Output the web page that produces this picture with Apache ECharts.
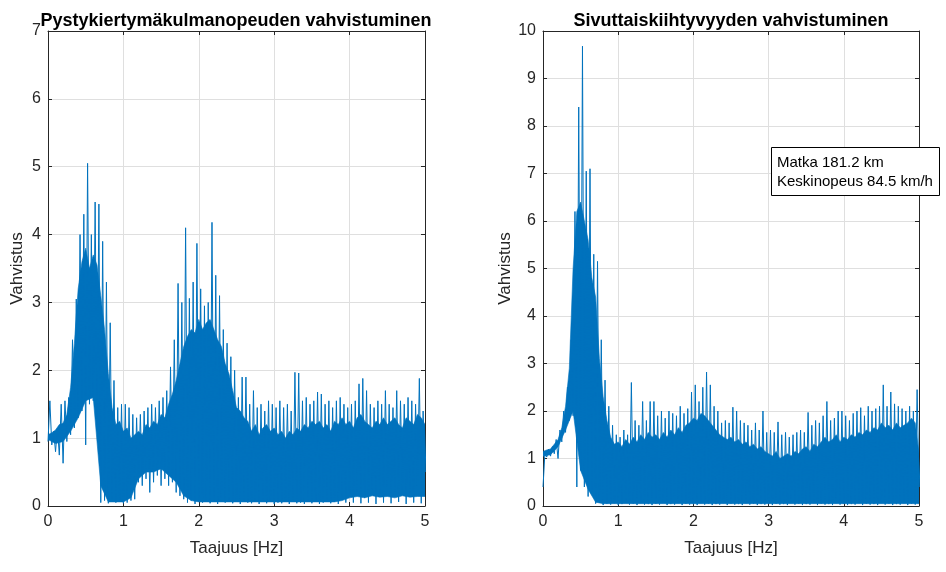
<!DOCTYPE html>
<html>
<head>
<meta charset="utf-8">
<script src="https://cdn.jsdelivr.net/npm/echarts@6/dist/echarts.min.js"></script>
<style>
html,body{margin:0;padding:0;background:#fff;}
#chart{width:946px;height:572px;}
</style>
</head>
<body>
<div id="chart"></div>
<script>
// ---- Data (gain vs frequency) ----
const freqStep = 0.05;   // spacing of spike / core-top samples [Hz]
const bandStep = 0.1;    // spacing of dense-band lower edge samples [Hz]
const xTicks = [0, 1, 2, 3, 4, 5];

// Left plot: Pystykiertymäkulmanopeuden vahvistuminen
const leftPeak = [
 1.55,1.10,1.15,1.50,1.55,1.60,2.45,3.05,4.00,4.30,
 5.05,4.00,4.48,4.45,3.90,3.30,2.70,1.85,1.45,1.50,
 1.50,1.45,1.35,1.30,1.35,1.40,1.45,1.50,1.45,1.55,
 1.60,1.70,2.05,2.45,3.28,3.00,4.10,3.06,3.30,3.87,
 3.20,2.95,3.00,4.18,3.40,3.10,2.60,2.40,2.20,2.00,
 1.60,1.90,1.90,1.50,1.70,1.45,1.50,1.40,1.55,1.50,
 1.45,1.55,1.45,1.50,1.40,1.97,1.96,1.55,1.60,1.50,
 1.55,1.68,1.65,1.50,1.55,1.45,1.55,1.60,1.50,1.45,
 1.50,1.55,1.80,1.88,1.70,1.50,1.45,1.55,1.50,1.70,
 1.50,1.45,1.70,1.55,1.50,1.60,1.55,1.50,1.88,1.40,
 1.30];
const leftTrough = [
 0.95,0.90,0.80,0.75,0.63,0.95,1.05,1.15,1.30,1.40,
 0.90,1.50,1.55,1.20,0.05,0.08,0.04,0.08,0.05,0.06,
 0.04,0.05,0.08,0.10,0.35,0.30,0.40,0.20,0.35,0.45,
 0.30,0.40,0.30,0.35,0.20,0.15,0.10,0.05,0.08,0.03,
 0.10,0.05,0.08,0.04,0.06,0.03,0.08,0.05,0.10,0.04,
 0.06,0.03,0.08,0.05,0.04,0.07,0.03,0.06,0.04,0.08,
 0.03,0.05,0.04,0.07,0.03,0.06,0.04,0.05,0.03,0.08,
 0.04,0.06,0.03,0.05,0.07,0.04,0.06,0.03,0.10,0.05,
 0.15,0.05,0.20,0.04,0.12,0.05,0.25,0.03,0.18,0.05,
 0.28,0.04,0.22,0.06,0.25,0.03,0.20,0.05,0.30,0.04,
 0.50];
const leftCoreTop = [
 1.05,1.08,1.12,1.20,1.22,1.35,1.75,2.40,3.20,3.60,
 3.80,3.50,3.70,3.55,3.10,2.60,1.95,1.45,1.20,1.25,
 1.10,1.15,1.00,1.05,1.10,1.05,1.20,1.15,1.25,1.20,
 1.35,1.30,1.50,1.65,1.85,2.10,2.35,2.50,2.60,2.55,
 2.75,2.60,2.70,2.75,2.60,2.45,2.35,2.10,1.95,1.70,
 1.45,1.40,1.30,1.25,1.10,1.20,1.05,1.15,1.20,1.10,
 1.15,1.05,1.10,1.00,1.10,1.05,1.15,1.10,1.20,1.15,
 1.25,1.20,1.25,1.15,1.20,1.10,1.25,1.20,1.30,1.20,
 1.25,1.15,1.30,1.35,1.25,1.20,1.15,1.25,1.20,1.30,
 1.20,1.25,1.30,1.20,1.15,1.30,1.25,1.20,1.35,1.30,
 1.20];
const leftBandLo = [
 0.98,0.92,0.95,1.10,1.30,1.55,1.60,0.30,0.06,0.06,
 0.06,0.12,0.40,0.50,0.50,0.55,0.45,0.35,0.15,0.08,
 0.06,0.06,0.06,0.06,0.06,0.06,0.06,0.06,0.06,0.06,
 0.06,0.06,0.06,0.06,0.06,0.06,0.06,0.06,0.06,0.08,
 0.12,0.14,0.12,0.15,0.13,0.14,0.12,0.15,0.13,0.14,
 0.14];

// Right plot: Sivuttaiskiihtyvyyden vahvistuminen
const rightPeak = [
 1.10,1.20,1.25,1.40,1.60,2.00,2.50,3.50,6.20,8.40,
 9.68,7.05,7.10,5.30,5.15,3.50,2.65,2.10,1.70,1.50,
 1.45,1.60,1.50,2.60,1.80,1.70,2.20,1.80,2.20,2.20,
 1.90,2.00,1.85,2.00,1.95,1.90,2.10,1.95,2.05,2.40,
 2.55,2.20,2.50,2.82,2.55,2.10,2.00,1.75,1.80,1.75,
 2.08,2.00,1.80,1.75,1.70,1.60,1.75,1.60,2.00,1.55,
 1.60,1.55,1.77,1.50,1.55,1.45,1.50,1.55,1.60,1.55,
 1.97,1.70,1.80,1.75,1.90,2.20,1.80,1.85,2.00,2.00,
 1.90,1.80,1.95,2.00,2.07,1.90,2.10,2.00,2.05,2.10,
 2.55,2.10,2.40,2.15,2.10,2.05,2.00,2.10,2.00,2.45,
 1.20];
const rightTrough = [
 0.40,1.03,1.05,1.10,1.00,1.35,1.55,1.80,1.90,0.40,
 0.75,0.40,0.20,0.30,0.05,0.10,0.02,0.05,0.03,0.06,
 0.02,0.04,0.08,0.03,0.05,0.02,0.06,0.03,0.04,0.02,
 0.05,0.03,0.07,0.02,0.04,0.03,0.06,0.02,0.05,0.03,
 0.04,0.02,0.06,0.03,0.05,0.02,0.04,0.03,0.06,0.02,
 0.05,0.03,0.04,0.02,0.06,0.03,0.05,0.02,0.04,0.03,
 0.06,0.02,0.05,0.03,0.04,0.02,0.06,0.03,0.05,0.02,
 0.04,0.03,0.06,0.02,0.05,0.03,0.04,0.02,0.06,0.03,
 0.05,0.02,0.04,0.03,0.06,0.02,0.05,0.03,0.04,0.02,
 0.06,0.03,0.05,0.02,0.04,0.03,0.06,0.02,0.05,0.03,
 0.40];
const rightCoreTop = [
 1.15,1.18,1.20,1.30,1.40,1.65,2.10,2.90,5.00,6.20,
 6.40,6.00,5.60,4.80,4.40,3.10,2.30,1.80,1.45,1.30,
 1.35,1.25,1.40,1.30,1.45,1.35,1.50,1.40,1.55,1.45,
 1.50,1.40,1.55,1.45,1.60,1.50,1.65,1.55,1.70,1.75,
 1.85,1.80,1.95,1.90,1.80,1.70,1.60,1.50,1.45,1.40,
 1.45,1.35,1.40,1.30,1.35,1.25,1.30,1.20,1.25,1.15,
 1.10,1.05,1.15,1.00,1.05,1.10,1.05,1.15,1.10,1.20,
 1.25,1.15,1.30,1.25,1.35,1.45,1.35,1.40,1.50,1.35,
 1.45,1.40,1.50,1.45,1.55,1.50,1.60,1.55,1.65,1.60,
 1.75,1.65,1.70,1.60,1.75,1.65,1.70,1.75,1.85,1.75,
 1.10];
const rightBandLo = [
 1.05,1.08,1.25,1.60,2.00,0.75,0.35,0.08,0.05,0.05,
 0.05,0.05,0.05,0.05,0.05,0.05,0.05,0.05,0.05,0.05,
 0.05,0.05,0.05,0.05,0.05,0.05,0.05,0.05,0.05,0.05,
 0.05,0.05,0.05,0.05,0.05,0.05,0.05,0.05,0.05,0.05,
 0.05,0.05,0.05,0.05,0.05,0.05,0.05,0.05,0.05,0.05,
 0.05];

const titles = ['Pystykiertymäkulmanopeuden vahvistuminen', 'Sivuttaiskiihtyvyyden vahvistuminen'];
const yMax = [7, 10];
const xName = 'Taajuus [Hz]';
const yName = 'Vahvistus';
const infoLines = ['Matka 181.2 km', 'Keskinopeus 84.5 km/h'];

// ---- Build chart ----
const BLUE = '#0072BD';
const AX = '#262626';
const FONT = '"Liberation Sans", Arial, Helvetica, sans-serif';

function zigzag(peak, trough) {
  const pts = [];
  for (let i = 0; i < peak.length; i++) {
    const f = +(i * freqStep).toFixed(4);
    pts.push([f, trough[i]]);
    pts.push([+(f + freqStep / 2).toFixed(4), peak[i]]);
  }
  return pts;
}

function bandSeries(top, lo, idx) {
  return {
    type: 'custom', xAxisIndex: idx * 2, yAxisIndex: idx * 2, silent: true, clip: true, z: 2,
    data: [[0, 0]],
    renderItem: function (params, api) {
      const pts = [];
      for (let i = 0; i < top.length; i++) pts.push(api.coord([i * freqStep, top[i]]));
      for (let j = lo.length - 1; j >= 0; j--) pts.push(api.coord([j * bandStep, lo[j]]));
      return { type: 'polygon', shape: { points: pts }, style: { fill: BLUE, stroke: BLUE, lineWidth: 0.6 } };
    }
  };
}

const grids = [
  { left: 48, top: 31, width: 377, height: 475 },
  { left: 543, top: 31, width: 376, height: 475 }
];

const xAxes = [], yAxes = [];
grids.forEach((g, i) => {
  xAxes.push({
    type: 'value', gridIndex: i, min: xTicks[0], max: xTicks[xTicks.length - 1], interval: 1,
    position: 'bottom',
    name: xName, nameLocation: 'middle', nameGap: 34,
    nameTextStyle: { fontSize: 17, color: AX, fontFamily: FONT },
    axisLine: { show: true, onZero: false, lineStyle: { color: AX, width: 1 } },
    axisTick: { show: true, inside: true, length: 4, lineStyle: { color: AX } },
    axisLabel: { fontSize: 16, color: AX, fontFamily: FONT, margin: 8 },
    splitLine: { show: true, lineStyle: { color: '#dfdfdf', width: 1 } }
  });
  xAxes.push({
    type: 'value', gridIndex: i, min: xTicks[0], max: xTicks[xTicks.length - 1], interval: 1,
    position: 'top',
    axisLine: { show: true, onZero: false, lineStyle: { color: AX, width: 1 } },
    axisTick: { show: true, inside: true, length: 4, lineStyle: { color: AX } },
    axisLabel: { show: false }, splitLine: { show: false }
  });
  yAxes.push({
    type: 'value', gridIndex: i, min: 0, max: yMax[i], interval: 1,
    position: 'left',
    name: yName, nameLocation: 'middle', nameGap: i === 0 ? 22 : 29,
    nameTextStyle: { fontSize: 17, color: AX, fontFamily: FONT },
    axisLine: { show: true, onZero: false, lineStyle: { color: AX, width: 1 } },
    axisTick: { show: true, inside: true, length: 4, lineStyle: { color: AX } },
    axisLabel: { fontSize: 16, color: AX, fontFamily: FONT, margin: 7 },
    splitLine: { show: true, lineStyle: { color: '#dfdfdf', width: 1 } }
  });
  yAxes.push({
    type: 'value', gridIndex: i, min: 0, max: yMax[i], interval: 1,
    position: 'right',
    axisLine: { show: true, onZero: false, lineStyle: { color: AX, width: 1 } },
    axisTick: { show: true, inside: true, length: 4, lineStyle: { color: AX } },
    axisLabel: { show: false }, splitLine: { show: false }
  });
});

const lineOf = (peak, trough, idx) => ({
  type: 'line', xAxisIndex: idx * 2, yAxisIndex: idx * 2, data: zigzag(peak, trough),
  showSymbol: false, symbol: 'none', clip: true, z: 3,
  lineStyle: { color: BLUE, width: 1 }, silent: true
});

const option = {
  animation: false,
  backgroundColor: '#fff',
  title: [
    { text: titles[0], left: 231, top: 7, textAlign: 'center',
      textStyle: { fontSize: 18, fontWeight: 'bold', color: '#000', fontFamily: FONT } },
    { text: titles[1], left: 726, top: 7, textAlign: 'center',
      textStyle: { fontSize: 18, fontWeight: 'bold', color: '#000', fontFamily: FONT } }
  ],
  grid: grids,
  xAxis: xAxes,
  yAxis: yAxes,
  series: [
    bandSeries(leftCoreTop, leftBandLo, 0),
    lineOf(leftPeak, leftTrough, 0),
    bandSeries(rightCoreTop, rightBandLo, 1),
    lineOf(rightPeak, rightTrough, 1)
  ],
  graphic: [
    { type: 'rect', left: 771, top: 147, z: 100, shape: { width: 168, height: 48 },
      style: { fill: '#fff', stroke: '#000', lineWidth: 1 } },
    { type: 'text', left: 777, top: 155, z: 101,
      style: { text: infoLines[0], fill: '#000', font: '15px ' + FONT } },
    { type: 'text', left: 777, top: 174, z: 101,
      style: { text: infoLines[1], fill: '#000', font: '15px ' + FONT } }
  ]
};

const chart = echarts.init(document.getElementById('chart'), null, { renderer: 'canvas' });
chart.setOption(option);
</script>
</body>
</html>
